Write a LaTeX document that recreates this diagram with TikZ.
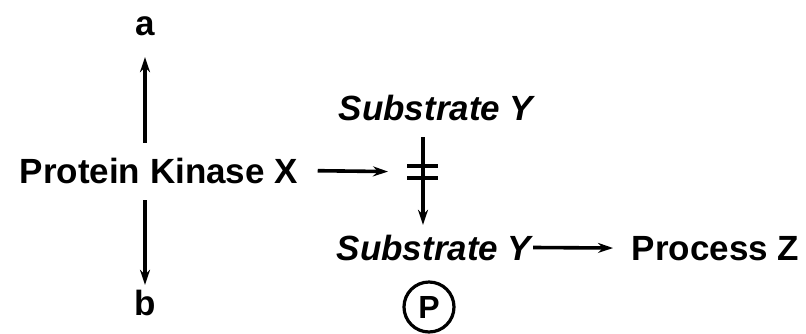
\documentclass[tikz,border=0pt]{standalone}
\usepackage{fontspec}
\setmainfont{Liberation Sans}
\usetikzlibrary{arrows.meta}
\tikzset{
  lbl/.style={font=\fontsize{35}{40}\selectfont\bfseries, inner sep=0pt},
  sub/.style={lbl, font=\fontsize{35}{40}\selectfont\bfseries\itshape},
}
\begin{document}
\begin{tikzpicture}[x=1pt,y=-1pt,>={Stealth[length=15pt,width=10pt]},line width=3.6pt]
            \useasboundingbox (0,0) rectangle (806,333);
            \node[lbl,anchor=base west] (kinase) at (18,183) {Protein Kinase X};
            \node[lbl,anchor=base] (a) at (145,35) {a};
            \node[lbl,anchor=base] (b) at (145,315) {b};
            \node[sub,anchor=base west] (suby) at (337,120) {Substrate Y};
            \node[sub,anchor=base west] (subyp) at (335,260) {Substrate Y};
            \node[lbl,anchor=base west] (procz) at (630,260) {Process Z};
            \node[circle,draw,line width=3.2pt,minimum size=50pt,inner sep=0pt,
                  font=\fontsize{32}{36}\selectfont\bfseries] (phos) at (429,307) {P};
            \coordinate (block) at (423,172);
            % kinase to a and b
            \draw[->,shorten <=13pt,shorten >=20pt] (a |- kinase.north) -- (a.south);
            \draw[->,shorten <=15pt,shorten >=3pt] (b |- kinase.south) -- (b.north);
            % blocked step
            \draw[->,shorten <=18pt,shorten >=35pt] (kinase.east) -- (block);
            \draw[->,shorten <=15pt,shorten >=8pt] (suby.south -| block) -- (subyp.north -| block);
            \draw (block) ++(-16,-6) -- ++(31,0);
            \draw (block) ++(-16,6) -- ++(31,0);
            \draw[->,shorten >=17pt] (subyp.east) -- (procz.west);
        \end{tikzpicture}
\end{document}
